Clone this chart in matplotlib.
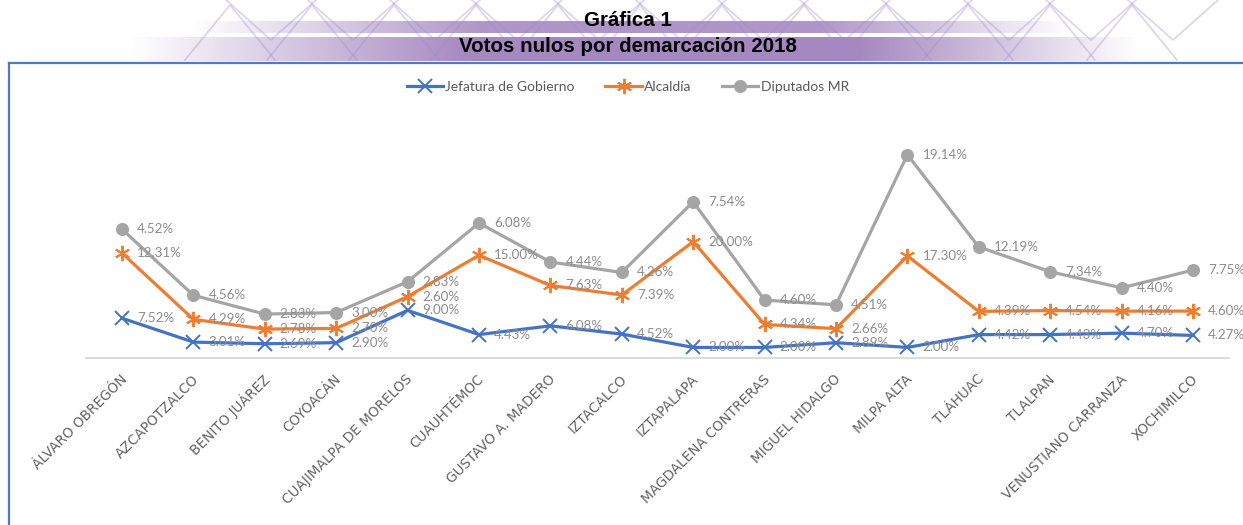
import numpy as np
import matplotlib
matplotlib.use("Agg")
import matplotlib.pyplot as plt
from matplotlib.transforms import ScaledTranslation

categories = ["ÁLVARO OBREGÓN", "AZCAPOTZALCO", "BENITO JUÁREZ", "COYOACÁN",
              "CUAJIMALPA DE MORELOS", "CUAUHTÉMOC", "GUSTAVO A. MADERO", "IZTACALCO",
              "IZTAPALAPA", "MAGDALENA CONTRERAS", "MIGUEL HIDALGO", "MILPA ALTA",
              "TLÁHUAC", "TLALPAN", "VENUSTIANO CARRANZA", "XOCHIMILCO"]
jefatura = [7.52, 3.01, 2.69, 2.90, 9.00, 4.43, 6.08, 4.52, 2.00, 2.00, 2.89, 2.00, 4.42, 4.43, 4.70, 4.27]
alcaldia = [12.31, 4.29, 2.78, 2.70, 2.60, 15.00, 7.63, 7.39, 20.00, 4.34, 2.66, 17.30, 4.39, 4.54, 4.16, 4.60]
diputados = [4.52, 4.56, 2.83, 3.00, 2.83, 6.08, 4.44, 4.26, 7.54, 4.60, 4.51, 19.14, 12.19, 7.34, 4.40, 7.75]
series_names = ["Jefatura de Gobierno", "Alcaldía", "Diputados MR"]
title1 = "Gráfica 1"
title2 = "Votos nulos por demarcación 2018"

W, H = 1243, 525
fig = plt.figure(figsize=(W / 100, H / 100), dpi=100)
fig.patch.set_facecolor("white")

# ---- decorative banner (figure pixel coordinates) ----
bg = fig.add_axes([0, 0, 1, 1], zorder=0)
bg.set_xlim(0, W)
bg.set_ylim(H, 0)
bg.axis("off")

purple = np.array([150, 115, 182]) / 255.0

def band(x0, x1, xa, xb, y0, y1, amax):
    xs = np.linspace(x0, x1, 600)
    a = np.interp(xs, [x0, xa, xb, x1], [0, amax, amax, 0])
    img = np.zeros((1, len(xs), 4))
    img[0, :, :3] = purple
    img[0, :, 3] = a
    bg.imshow(img, extent=[x0, x1, y1, y0], aspect="auto", interpolation="bilinear", zorder=1)

band(190, 1075, 480, 820, 21, 33, 0.75)
band(130, 1140, 470, 860, 37, 61, 0.85)

# triangle / diamond pattern
pat_col = (0.62, 0.55, 0.80, 0.35)
for k in range(12):
    cx = 230 + k * 82
    bg.plot([cx - 45, cx, cx + 45], [60, 5, 60], color=pat_col, lw=1.3, zorder=2)
    bg.plot([cx - 4, cx + 41, cx + 86], [0, 40, 0], color=pat_col, lw=1.3, zorder=2)

# chart border (blue)
bg.plot([9.5, W], [62.5, 62.5], color="#4F7AC6", lw=1.6, zorder=3)
bg.plot([9.5, 9.5], [62.5, H], color="#4F7AC6", lw=1.6, zorder=3)

fig.text(628 / W, 1 - 20 / H, title1, ha="center", va="center", fontsize=14.8,
         fontweight="bold", family="Liberation Sans", color="black", zorder=5)
fig.text(628 / W, 1 - 47 / H, title2, ha="center", va="center", fontsize=14.8,
         fontweight="bold", family="Liberation Sans", color="black", zorder=5)

# ---- main plot ----
left_px, right_px = 86.3, 1228.7
bottom_px, top_px = 358, 120
ax = fig.add_axes([left_px / W, 1 - bottom_px / H, (right_px - left_px) / W, (bottom_px - top_px) / H], zorder=4)
ax.patch.set_alpha(0)

x = np.arange(len(categories))
vals = [np.array(jefatura), np.array(alcaldia), np.array(diputados)]
cums = np.cumsum(vals, axis=0)
colors = ["#4472C4", "#ED7D31", "#A5A5A5"]
markers = ["x", (6, 2, 0), "o"]
msizes = [10, 11, 8]

for cum, c, m, ms, name in zip(cums, colors, markers, msizes, series_names):
    ax.plot(x, cum, color=c, lw=2.3, marker=m, markersize=ms, markeredgewidth=1.4,
            markeredgecolor=c, markerfacecolor=c, label=name, solid_joinstyle="round")

label_off = ScaledTranslation(15 / 100, 0, fig.dpi_scale_trans)
for v, cum in zip(vals, cums):
    for xi, vi, ci in zip(x, v, cum):
        ax.text(xi, ci, f"{vi:.2f}%", transform=ax.transData + label_off,
                ha="left", va="center", fontsize=9.6, family="Lato", color="#8C8C8C")

ax.set_xlim(-0.5, len(categories) - 0.5)
ax.set_ylim(0, 45)
ax.set_yticks([])
ax.set_xticks([])
for s in ["top", "right", "left"]:
    ax.spines[s].set_visible(False)
ax.spines["bottom"].set_color("#D9D9D9")
ax.spines["bottom"].set_linewidth(1.3)

tick_off = ScaledTranslation(3 / 100, -19 / 100, fig.dpi_scale_trans)
for xi, name in zip(x, categories):
    ax.text(xi, 0, name, transform=ax.transData + tick_off, rotation=45,
            rotation_mode="anchor", ha="right", va="center", fontsize=9.8,
            family="DejaVu Sans", color="#626262")

leg = fig.legend(loc="center", bbox_to_anchor=(628 / W, 1 - 87 / H), ncol=3, frameon=False,
                 prop={"family": "Lato", "size": 10}, handlelength=2.6, columnspacing=2.2,
                 handletextpad=0.2)
for t in leg.get_texts():
    t.set_color("#595959")

fig.savefig("out.png", dpi=100, facecolor="white")
